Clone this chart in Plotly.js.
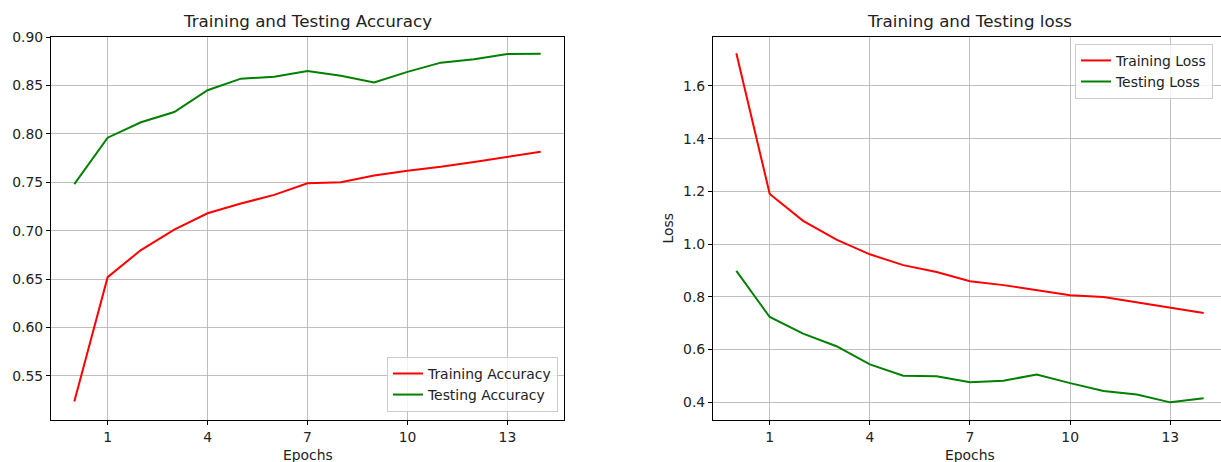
<!DOCTYPE html>
<html>
<head>
<meta charset="utf-8">
<script src="https://cdn.plot.ly/plotly-3.0.1.min.js"></script>
<style>html,body{margin:0;padding:0;background:#fff;}#chart{width:1221px;height:462px;}</style>
</head>
<body>
<div id="chart"></div>
<script>
const epochs = [0,1,2,3,4,5,6,7,8,9,10,11,12,13,14];
const trainAcc = [0.5235,0.652,0.680,0.701,0.718,0.728,0.737,0.749,0.750,0.757,0.762,0.766,0.771,0.776,0.7815];
const testAcc = [0.748,0.796,0.812,0.8225,0.845,0.857,0.859,0.865,0.860,0.853,0.864,0.8735,0.877,0.8824,0.8828];
const trainLoss = [1.724,1.19,1.088,1.017,0.961,0.920,0.894,0.859,0.844,0.825,0.806,0.799,0.779,0.760,0.7385];
const testLoss = [0.898,0.723,0.660,0.612,0.543,0.500,0.498,0.475,0.481,0.505,0.472,0.442,0.429,0.399,0.415];
const xTicks = [1,4,7,10,13];
const accTicks = [0.55,0.60,0.65,0.70,0.75,0.80,0.85,0.90];
const lossTicks = [0.4,0.6,0.8,1.0,1.2,1.4,1.6];

const FONT = 'DejaVu Sans, sans-serif';
const SMALL = 13.9;
const BIG = 16.7;
const line = (c) => ({color: c, width: 2});

const traces = [
  {x: epochs, y: trainAcc, name: 'Training Accuracy', mode: 'lines', line: line('#ff0000'), xaxis: 'x', yaxis: 'y', legend: 'legend'},
  {x: epochs, y: testAcc, name: 'Testing Accuracy', mode: 'lines', line: line('#008000'), xaxis: 'x', yaxis: 'y', legend: 'legend'},
  {x: epochs, y: trainLoss, name: 'Training Loss', mode: 'lines', line: line('#ff0000'), xaxis: 'x2', yaxis: 'y2', legend: 'legend2'},
  {x: epochs, y: testLoss, name: 'Testing Loss', mode: 'lines', line: line('#008000'), xaxis: 'x2', yaxis: 'y2', legend: 'legend2'}
];

const axBase = {
  showline: true, mirror: true, linecolor: '#000', linewidth: 1,
  ticks: 'outside', ticklen: 4, tickwidth: 1, tickcolor: '#000',
  showgrid: true, gridcolor: '#b0b0b0', gridwidth: 0.8,
  zeroline: false, tickfont: {family: FONT, size: SMALL, color: '#222'}
};

const legBase = {
  bgcolor: 'rgba(255,255,255,0.8)', bordercolor: '#cccccc', borderwidth: 1,
  font: {family: FONT, size: SMALL, color: '#222'}, xref: 'paper', yref: 'paper'
};

const layout = {
  width: 1221, height: 462,
  margin: {l: 51, r: 0, t: 37, b: 42},
  paper_bgcolor: '#fff', plot_bgcolor: '#fff',
  font: {family: FONT, color: '#222'},
  xaxis: Object.assign({}, axBase, {domain: [0, 0.4385], range: [-0.7, 14.7], tickvals: xTicks, anchor: 'y'}),
  yaxis: Object.assign({}, axBase, {domain: [0, 1], range: [0.5045, 0.9], tickvals: accTicks, tickformat: '.2f', anchor: 'x'}),
  xaxis2: Object.assign({}, axBase, {domain: [0.5658, 1], range: [-0.7, 14.52], tickvals: xTicks, anchor: 'y2'}),
  yaxis2: Object.assign({}, axBase, {domain: [0, 1], range: [0.332, 1.786], tickvals: lossTicks, tickformat: '.1f', anchor: 'x2'}),
  legend: Object.assign({}, legBase, {x: 0.4333, y: 0.021, xanchor: 'right', yanchor: 'bottom'}),
  legend2: Object.assign({}, legBase, {x: 0.8752, y: 0.982, xanchor: 'left', yanchor: 'top'}),
  showlegend: true,
  annotations: [
    {text: 'Training and Testing Accuracy', xref: 'x', yref: 'paper', x: 7, y: 1, yanchor: 'middle', yshift: 16, showarrow: false, font: {family: FONT, size: BIG, color: '#222'}},
    {text: 'Training and Testing loss', xref: 'x2', yref: 'paper', x: 7, y: 1, yanchor: 'middle', yshift: 16, showarrow: false, font: {family: FONT, size: BIG, color: '#222'}},
    {text: 'Epochs', xref: 'x', yref: 'paper', x: 7, y: 0, yanchor: 'middle', yshift: -35, showarrow: false, font: {family: FONT, size: SMALL, color: '#222'}},
    {text: 'Epochs', xref: 'x2', yref: 'paper', x: 7, y: 0, yanchor: 'middle', yshift: -35, showarrow: false, font: {family: FONT, size: SMALL, color: '#222'}},
    {text: 'Loss', xref: 'paper', yref: 'paper', x: 0.5265, y: 0.5, xanchor: 'center', yanchor: 'middle', textangle: -90, showarrow: false, font: {family: FONT, size: SMALL, color: '#222'}}
  ]
};

Plotly.newPlot('chart', traces, layout, {displayModeBar: false, staticPlot: true});
</script>
</body>
</html>
